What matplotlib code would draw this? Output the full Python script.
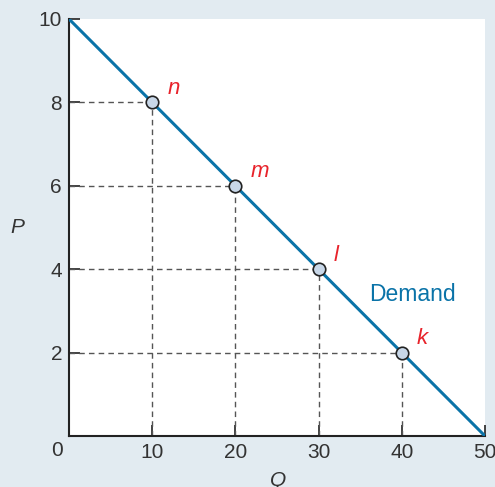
import numpy as np
import matplotlib.pyplot as plt

# demand curve endpoints and labelled points
demand_q = [0, 50]
demand_p = [10, 0]
point_q = [10, 20, 30, 40]
point_p = [8, 6, 4, 2]
point_labels = ['n', 'm', 'l', 'k']

bg = '#e2ebf1'
line_color = '#0a73a8'
red = '#e8232b'

plt.rcParams['font.family'] = ['Liberation Sans', 'DejaVu Sans']

fig = plt.figure(figsize=(4.95, 4.87), dpi=100, facecolor=bg)
ax = fig.add_axes([69 / 495, 1 - 436 / 487, 416 / 495, 417 / 487])
ax.set_facecolor('white')

# dashed guides to each point
for q, p in zip(point_q, point_p):
    ax.plot([0, q], [p, p], ls=(0, (4, 3)), color='#555555', lw=1)
    ax.plot([q, q], [0, p], ls=(0, (4, 3)), color='#555555', lw=1)

ax.plot(demand_q, demand_p, color=line_color, lw=2.2, zorder=3)
ax.plot(point_q, point_p, 'o', ms=9, mfc='#c8d7e8', mec='#222222', mew=1.2, zorder=4)

for q, p, lab in zip(point_q, point_p, point_labels):
    ax.annotate(lab, (q, p), xytext=(11, 10), textcoords='offset points',
                color=red, fontsize=16, style='italic', ha='left', va='center')

ax.text(36.1, 3.4, 'Demand', color=line_color, fontsize=16.5, ha='left', va='center')

ax.set_xlim(0, 50)
ax.set_ylim(0, 10)
ax.set_xticks([10, 20, 30, 40, 50])
ax.set_yticks([2, 4, 6, 8, 10])
ax.tick_params(direction='in', length=8, width=1.2, labelsize=15, colors='#222222',
               labelcolor='#333333', pad=5)
for side in ['top', 'right']:
    ax.spines[side].set_visible(False)
for side in ['left', 'bottom']:
    ax.spines[side].set_linewidth(1.5)
    ax.spines[side].set_color('#222222')

ax.text(-1.45, -0.35, '0', fontsize=15, color='#333333', ha='center', va='center')
fig.text(17 / 495, 1 - 227 / 487, 'P', fontsize=15, style='italic', color='#333333',
         ha='center', va='center')
fig.text(278 / 495, 1 - 481 / 487, 'Q', fontsize=15, style='italic', color='#333333',
         ha='center', va='center')

fig.savefig('out.png', dpi=100, facecolor=bg)
